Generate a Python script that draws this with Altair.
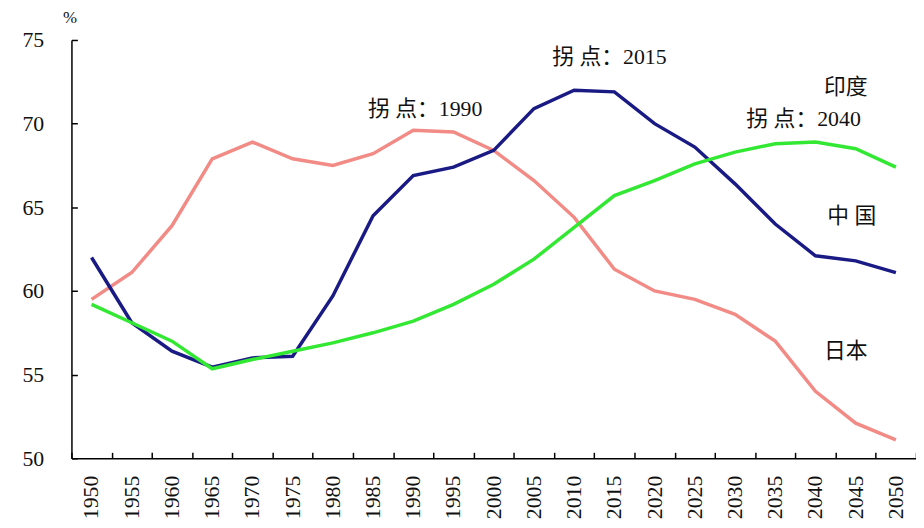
import altair as alt
import pandas as pd

years = [str(y) for y in range(1950, 2051, 5)]
china = [62.0, 58.1, 56.4, 55.45, 56.0, 56.1, 59.7, 64.5, 66.9, 67.4, 68.4, 70.9,
         72.0, 71.9, 70.0, 68.6, 66.4, 64.0, 62.1, 61.8, 61.1]
japan = [59.5, 61.1, 63.9, 67.9, 68.9, 67.9, 67.5, 68.2, 69.6, 69.5, 68.4, 66.6,
         64.4, 61.3, 60.0, 59.5, 58.6, 57.0, 54.0, 52.1, 51.1]
india = [59.2, 58.1, 57.0, 55.35, 55.9, 56.4, 56.9, 57.5, 58.2, 59.2, 60.4, 61.9,
         63.8, 65.7, 66.6, 67.6, 68.3, 68.8, 68.9, 68.5, 67.4]

series_names = ["日本", "中国", "印度"]
series_colors = ["#F28A85", "#1A1A85", "#33E833"]
y_ticks = [50, 55, 60, 65, 70, 75]

ann_text = ["拐 点：1990", "拐 点：2015", "印度", "拐 点：2040", "中 国", "日本"]
ann_year = ["1990", "2015", "2045", "2040", "2045", "2045"]
ann_value = [70.85, 74.0, 72.2, 70.3, 64.5, 56.4]
ann_dx = [12, -5, -10, -12, -4, -10]

rows = []
for name, vals in zip(series_names, [japan, china, india]):
    for y, v in zip(years, vals):
        rows.append({"series": name, "year": y, "value": v})
df = pd.DataFrame(rows)

FONT = "Liberation Serif"
x_scale = alt.Scale(type="band", paddingInner=0, paddingOuter=0, domain=years)
y_scale = alt.Scale(domain=[50, 75], nice=False, zero=False)

x_axis = alt.Axis(title=None, orient="bottom", labelAngle=-90, labelFont=FONT, labelFontSize=22,
                  labelColor="#111111", labelPadding=17, ticks=False,
                  domainColor="#000000", domainWidth=1.5, grid=False)
y_axis = alt.Axis(values=y_ticks, orient="left", title="%", titleAngle=0,
                  titleX=-2, titleY=-14, titleFont=FONT, titleFontSize=17,
                  titleFontWeight="normal", titleColor="#111111", labelFont=FONT, labelFontSize=22,
                  labelColor="#111111", labelPadding=28, ticks=False,
                  domainColor="#000000", domainWidth=1.5, grid=False)

x_enc = alt.X("year:O", scale=x_scale, bandPosition=0.5, axis=x_axis)
y_enc = alt.Y("value:Q", scale=y_scale, axis=y_axis)

lines = alt.Chart(df).mark_line(strokeWidth=3.5).encode(
    x=x_enc,
    y=y_enc,
    color=alt.Color("series:N", scale=alt.Scale(domain=series_names, range=series_colors), legend=None),
    detail="series:N",
)

ann_df = pd.DataFrame({"text": ann_text, "year": ann_year, "value": ann_value})
texts = []
for i in range(len(ann_text)):
    texts.append(
        alt.Chart(ann_df.iloc[[i]]).mark_text(
            font="Liberation Serif, Noto Sans CJK SC", fontSize=22, color="#111111",
            align="center", baseline="middle", dx=int(ann_dx[i])
        ).encode(x=x_enc, y=y_enc, text="text:N")
    )

main = alt.layer(lines, *texts)

ticks_layer = alt.Chart(df).mark_point(opacity=0).encode(
    x=alt.X("year:O", scale=x_scale, bandPosition=0.5,
            axis=alt.Axis(title=None, orient="bottom", labels=False, domain=False, ticks=True,
                          tickBand="extent", tickSize=6, tickWidth=1.5, tickColor="#000000",
                          offset=-6, grid=False)),
    y=alt.Y("value:Q", scale=y_scale,
            axis=alt.Axis(title=None, orient="left", values=y_ticks, labels=False, domain=False,
                          ticks=True, tickSize=6, tickWidth=1.5, tickColor="#000000",
                          offset=-6, grid=False)),
)

chart = alt.layer(main, ticks_layer).resolve_axis(x="independent", y="independent").properties(
    width=852, height=422,
    autosize=alt.AutoSizeParams(type="none"),
    padding={"left": 64, "top": 30, "right": 0, "bottom": 60},
).configure_view(stroke=None)

chart.save("out.html", embed_options={"renderer": "svg", "actions": False})
